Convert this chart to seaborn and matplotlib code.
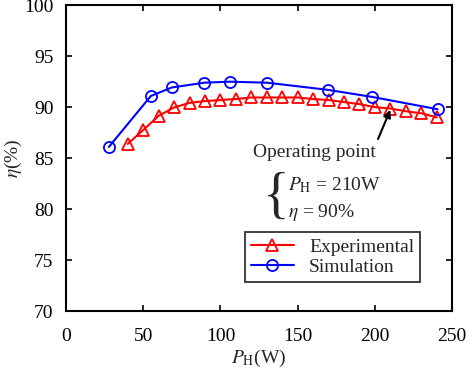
import matplotlib
matplotlib.use("Agg")
import matplotlib.pyplot as plt
import seaborn as sns
import pandas as pd

exp_p = [40, 50, 60, 70, 80, 90, 100, 110, 120, 130, 140, 150, 160, 170, 180, 190, 200, 210, 220, 230, 240]
exp_eta = [86.4, 87.75, 89.15, 89.97, 90.42, 90.6, 90.7, 90.8, 90.95, 90.95, 90.95, 90.95, 90.8, 90.7, 90.5, 90.3, 90.0, 89.87, 89.6, 89.4, 89.0]
sim_p = [27.8, 55, 68.5, 89.6, 106.2, 130.2, 169.5, 198.4, 240.5]
sim_eta = [86.1, 91.1, 91.93, 92.4, 92.5, 92.4, 91.7, 91.0, 89.8]
x_ticks = [0, 50, 100, 150, 200, 250]
y_ticks = [70, 75, 80, 85, 90, 95, 100]

sns.set_style("ticks")
plt.rcParams['font.family'] = ['Liberation Serif', 'DejaVu Serif']
plt.rcParams['mathtext.fontset'] = 'stix'

fig = plt.figure(figsize=(4.74, 3.70), dpi=100)
ax = fig.add_axes([0.139, 0.159, 0.815, 0.827])

df_exp = pd.DataFrame({"P": exp_p, "eta": exp_eta})
df_sim = pd.DataFrame({"P": sim_p, "eta": sim_eta})

sns.lineplot(data=df_exp, x="P", y="eta", ax=ax, color="#ff0000", marker="^",
             markersize=8, markerfacecolor="none", markeredgecolor="#ff0000",
             markeredgewidth=1.3, linewidth=1.5, label="Experimental")
sns.lineplot(data=df_sim, x="P", y="eta", ax=ax, color="#0000ff", marker="o",
             markersize=8, markerfacecolor="none", markeredgecolor="#0000ff",
             markeredgewidth=1.3, linewidth=1.5, label="Simulation")

ax.set_xlim(0, 250)
ax.set_ylim(70, 100)
ax.set_xticks(x_ticks)
ax.set_yticks(y_ticks)
ax.tick_params(direction="in", top=True, right=True, labeltop=False, labelright=False,
               length=4, width=1.2, labelsize=14, colors="black")
ax.tick_params(axis="x", pad=12)
ax.tick_params(axis="y", pad=9)
for s in ax.spines.values():
    s.set_linewidth(1.5)
    s.set_color("black")

ax.set_xlabel(r"$P_{\mathrm{H}}$(W)", fontsize=14, labelpad=2)
ax.set_ylabel(r"$\eta$(%)", fontsize=14, labelpad=0)

ax.annotate("Operating point", xy=(210, 89.75), xytext=(161, 85.6),
            fontsize=14, ha="center", va="center",
            arrowprops=dict(arrowstyle="-|>", color="black", lw=1.5,
                            shrinkA=1, shrinkB=0, mutation_scale=11,
                            relpos=(1.0, 1.0)))
ax.text(145.0, 81.0, "{", fontsize=40, ha="right", va="center",
        family="Liberation Serif")
ax.text(144.0, 82.35, r"$P_{\mathrm{H}}$ = 210W", fontsize=14, ha="left", va="center")
ax.text(144.0, 79.7, r"$\eta$ = 90%", fontsize=14, ha="left", va="center")

leg = ax.legend(loc="lower right", bbox_to_anchor=(0.917, 0.095), borderaxespad=0,
                fontsize=14, frameon=True, fancybox=False, edgecolor="black",
                handlelength=2.2, borderpad=0.3, labelspacing=0.15, handletextpad=0.8)
leg.get_frame().set_linewidth(1.3)

fig.savefig("out.png", dpi=100)
